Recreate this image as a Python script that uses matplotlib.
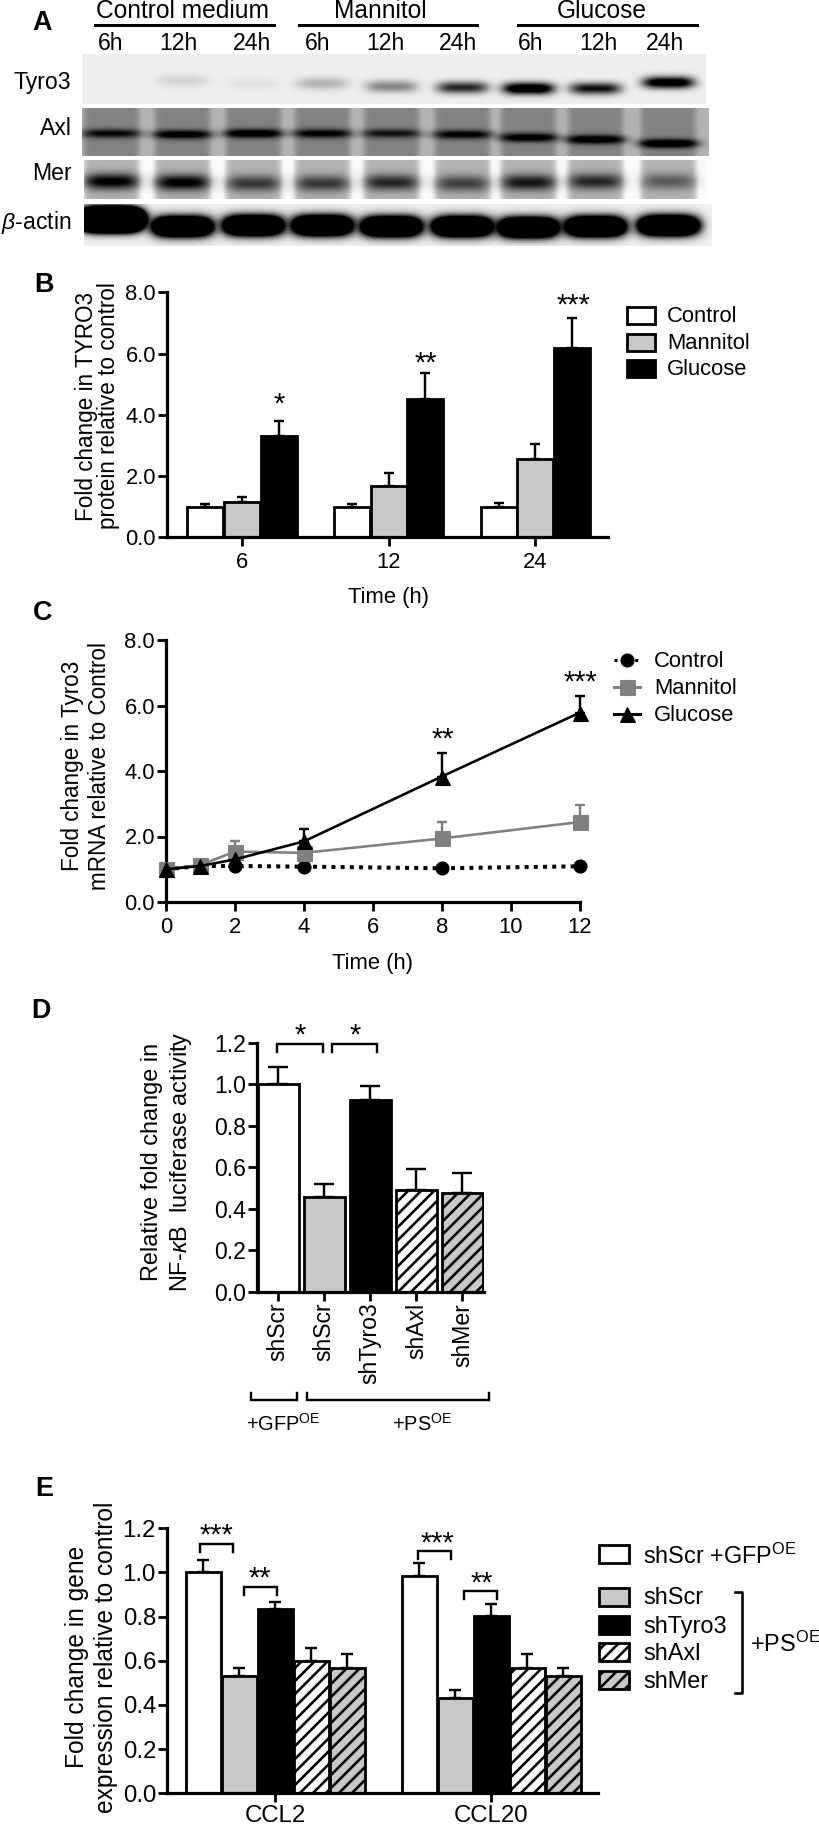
import numpy as np
import matplotlib
matplotlib.use('Agg')
import matplotlib.pyplot as plt
from matplotlib.patches import Rectangle

W, H, DPI = 819, 1827, 78

# panel A, band strength per lane
lanes = [111, 182, 253, 322, 391, 462, 528, 595, 668]
time_labels = ['6h', '12h', '24h'] * 3
group_labels = ['Control medium', 'Mannitol', 'Glucose']
tyro3_band = [0.0, 0.12, 0.06, 0.25, 0.45, 0.85, 1.3, 0.95, 1.2]
axl_band = [1.0, 1.2, 1.3, 1.1, 0.9, 1.1, 1.2, 1.3, 1.4]
mer_band = [1.05, 1.05, 0.7, 0.7, 0.8, 0.65, 0.9, 0.8, 0.5]
actin_band = [8, 3, 3, 3, 3, 3, 3, 3, 3]

# panel B
time_b = ['6', '12', '24']
control_b = [1.0, 1.0, 1.0]
control_b_top = [1.09, 1.1, 1.12]
mannitol_b = [1.14, 1.66, 2.56]
mannitol_b_top = [1.33, 2.11, 3.04]
glucose_b = [3.31, 4.52, 6.17]
glucose_b_top = [3.81, 5.35, 7.17]

# panel C
time_c = [0, 1, 2, 4, 8, 12]
control_c = [1.0, 1.1, 1.1, 1.08, 1.03, 1.09]
mannitol_c = [1.0, 1.13, 1.54, 1.5, 1.94, 2.44]
mannitol_c_top = [1.0, 1.2, 1.87, 1.5, 2.43, 2.95]
glucose_c = [1.0, 1.1, 1.3, 1.85, 3.83, 5.78]
glucose_c_top = [1.0, 1.2, 1.4, 2.24, 4.56, 6.29]

# panel D
names_d = ['shScr', 'shScr', 'shTyro3', 'shAxl', 'shMer']
values_d = [1.0, 0.455, 0.925, 0.49, 0.475]
tops_d = [1.083, 0.52, 0.99, 0.59, 0.572]

# panel E
genes_e = ['CCL2', 'CCL20']
values_e = [[1.0, 0.53, 0.835, 0.6, 0.568], [0.984, 0.433, 0.803, 0.568, 0.533]]
tops_e = [[1.058, 0.568, 0.866, 0.657, 0.632], [1.045, 0.466, 0.857, 0.632, 0.568]]
names_e = ['shScr', 'shTyro3', 'shAxl', 'shMer']


def pt(px):
    return px * 72.0 / DPI


plt.rcParams['font.family'] = ['Liberation Sans', 'DejaVu Sans']
plt.rcParams['mathtext.fontset'] = 'custom'
plt.rcParams['mathtext.rm'] = 'Liberation Sans'
plt.rcParams['mathtext.it'] = 'Liberation Sans:italic'
plt.rcParams['hatch.linewidth'] = pt(2.6)
plt.rcParams['axes.linewidth'] = pt(3.2)

fig = plt.figure(figsize=(W / DPI, H / DPI), dpi=DPI)
STYLES = [dict(fc='white'), dict(fc='#c8c8c8'), dict(fc='black'),
          dict(fc='white', hatch='//'), dict(fc='#c8c8c8', hatch='//')]


def ax_px(x0, y0, x1, y1):
    return fig.add_axes([x0 / W, 1 - y1 / H, (x1 - x0) / W, (y1 - y0) / H])


def blot(x0, y0, x1, y1, bg, lane_bg, lane_half, strengths, centre, half_w, half_h):
    xx, yy = np.meshgrid(np.arange(x0, x1), np.arange(y0, y1))
    img = np.full(xx.shape, float(bg))
    for cx in lanes:
        img = img + (lane_bg - bg) * np.exp(-((xx - cx) / lane_half) ** 12)
    for cx, s, cy in zip(lanes, strengths, centre):
        band = np.clip(s * np.exp(-((xx - cx) / half_w) ** 4 - ((yy - cy) / half_h) ** 2), 0, 1)
        img = img * (1 - band)
    ax = ax_px(x0, y0, x1, y1)
    ax.imshow(img, cmap='gray', vmin=0, vmax=255, aspect='auto', interpolation='bilinear')
    ax.axis('off')


def style_axes(ax, ylim, yticks, size):
    ax.set_ylim(*ylim)
    ax.set_yticks(yticks)
    ax.set_yticklabels(['%.1f' % t for t in yticks])
    for s in ['top', 'right']:
        ax.spines[s].set_visible(False)
    ax.tick_params(axis='both', length=pt(9), width=pt(2.8), labelsize=pt(size), pad=pt(2))
    ax.patch.set_alpha(0)


def bars(ax, xs, vals, tops, styles, width, capw):
    for x, v, t, st in zip(xs, vals, tops, styles):
        ax.bar(x, v, width * 0.98, ec='black', lw=pt(2.8), zorder=2, **st)
        ax.errorbar(x, v, yerr=[[0], [t - v]], color='black', lw=pt(2.4), capsize=pt(capw),
                    capthick=pt(2.4), zorder=1)


# panel A
blot(82, 54, 706, 104, 238, 238, 33, tyro3_band, [80, 80, 83, 83, 86, 87, 88, 88, 82], 26, 6)
blot(82, 108, 709, 156, 178, 130, 28, axl_band, [133, 134, 133, 133, 133, 134, 137, 139, 143], 29, 4.5)
blot(84, 160, 707, 199, 250, 178, 28, mer_band, [181, 182, 183, 183, 182, 183, 182, 181, 181], 27, 8)
blot(84, 204, 712, 246, 240, 240, 33, actin_band, [219, 226, 225, 225, 226, 226, 227, 226, 225], 30, 9.5)

# panel B
ax = ax_px(167, 292.3, 608, 537.3)
for i, (vals, tops) in enumerate([(control_b, control_b_top), (mannitol_b, mannitol_b_top),
                                  (glucose_b, glucose_b_top)]):
    bars(ax, [g + i - 1 for g in (0, 4, 8)], vals, tops, [STYLES[i]] * 3, 1, 5)
ax.set_xlim(-2.04, 9.98)
ax.set_xticks([0, 4, 8])
ax.set_xticklabels(time_b)
style_axes(ax, (0, 8), [0, 2, 4, 6, 8], 22)
ax.tick_params(axis='x', pad=pt(6))

# panel C
ax = ax_px(166, 640, 579.6, 902)
ax.plot(time_c, control_c, color='black', ls=(0, (1, 1.3)), lw=pt(4), marker='o', ms=pt(13), clip_on=False, zorder=3)
for vals, tops, col, mk, ms in [(mannitol_c, mannitol_c_top, '#808080', 's', 15),
                                (glucose_c, glucose_c_top, 'black', '^', 15)]:
    err = np.array(tops) - np.array(vals)
    ax.errorbar(time_c, vals, yerr=[np.zeros(6), err], color=col, lw=pt(2.6), marker=mk, ms=pt(ms),
                elinewidth=pt(2.4), capsize=pt(5), capthick=pt(2.4), clip_on=False, zorder=4)
ax.set_xlim(0, 12)
ax.set_xticks(range(0, 13, 2))
style_axes(ax, (0, 8), [0, 2, 4, 6, 8], 22)
ax.tick_params(axis='x', pad=pt(6))

# panel D
ax = ax_px(256.7, 1042.7, 484, 1291.7)
bars(ax, range(5), values_d, tops_d, STYLES, 0.92, 10)
ax.set_xlim(-0.47, 4.47)
ax.set_xticks(range(5))
ax.set_xticklabels(names_d, rotation=90)
style_axes(ax, (0, 1.2), [0, 0.2, 0.4, 0.6, 0.8, 1.0, 1.2], 23)

# panel E
ax = ax_px(167, 1528.3, 598, 1793.3)
for g, vals, tops in zip((0, 6), values_e, tops_e):
    bars(ax, [g + k - 2 for k in range(5)], vals, tops, STYLES, 1, 6)
ax.set_xlim(-3.01, 8.96)
ax.set_xticks([0, 6])
ax.set_xticklabels(genes_e)
style_axes(ax, (0, 1.2), [0, 0.2, 0.4, 0.6, 0.8, 1.0, 1.2], 24)
ax.tick_params(axis='x', pad=pt(3))

# everything placed by hand goes on a pixel overlay
ov = fig.add_axes([0, 0, 1, 1], zorder=10)
ov.set_xlim(0, W)
ov.set_ylim(H, 0)
ov.axis('off')


def label(x, y, s, size=22, ha='center', **kw):
    ov.text(x, y + 1.5, s, fontsize=pt(size), ha=ha, va='center', **kw)


def stars(x, y, n):
    ov.text(x, y + 6, '*' * n, fontsize=pt(29), ha='center', va='center')


def bracket(x0, x1, top, bottom, lw=2.4):
    ov.plot([x0, x0, x1, x1], [bottom, top, top, bottom], color='black', lw=pt(lw), solid_joinstyle='miter')


def ylab(x1, x2, y, l1, l2, size):
    ov.text(x1, y, l1, fontsize=pt(size), ha='center', va='center', rotation=90)
    ov.text(x2, y, l2, fontsize=pt(size), ha='center', va='center', rotation=90)


def box(x, y0, y1, style, w=28):
    ov.add_patch(Rectangle((x, y0), w, y1 - y0, ec='black', lw=pt(2.8), **style))


for s, x, y in zip('ABCDE', [42, 44, 43, 41, 44], [21, 284, 612, 1009, 1487]):
    label(x, y, s, size=27, fontweight='bold')

# panel A text
for s, x in zip(group_labels, [182, 380, 602]):
    label(x, 10, s, size=24.5)
for x0, x1 in [(95, 274), (299, 477), (518, 697)]:
    ov.plot([x0, x1], [25, 25], color='black', lw=pt(3))
for s, x in zip(time_labels, [111, 178, 252, 318, 385, 458, 531, 598, 665]):
    label(x, 42, s, size=23)
for s, y in zip(['Tyro3', 'Axl', 'Mer', r'$\beta$-actin'], [81, 127, 172, 221]):
    label(71.5, y, s, size=23, ha='right')

# panel B text
ylab(86, 108, 406, 'Fold change in TYRO3', 'protein relative to control', 22.5)
label(389, 596, 'Time (h)')
stars(279, 399, 1)
stars(426, 358, 2)
stars(573, 300, 3)
for s, y0, st in zip(['Control', 'Mannitol', 'Glucose'], [307, 334, 360], STYLES):
    box(626.6, y0, y0 + 16.5, st)
    label(667, y0 + 8, s, ha='left')

# panel C text
ylab(73, 100, 766, 'Fold change in Tyro3', 'mRNA relative to Control', 22.5)
label(373, 962, 'Time (h)')
stars(443, 734, 2)
stars(580, 677, 3)
legend_c = [('Control', 660, 'black', 'o', (0, (1, 1.3)), 13), ('Mannitol', 687, '#808080', 's', '-', 15),
            ('Glucose', 714, 'black', '^', '-', 15)]
for s, y, col, mk, ls, ms in legend_c:
    ov.plot([613.5, 640], [y, y], color=col, ls=ls, lw=pt(3))
    ov.plot([627], [y], color=col, marker=mk, ms=pt(ms))
    label(654, y, s, ha='left')

# panel D text
ylab(152, 181, 1162, 'Relative fold change in', r'NF-$\kappa$B  luciferase activity', 23.5)
bracket(277, 322.7, 1044, 1051.7)
bracket(331.7, 376.7, 1044, 1051.7)
stars(300, 1030, 1)
stars(355, 1030, 1)
bracket(250.7, 296.7, 1400, 1392.7)
bracket(307, 489, 1400, 1392.7)
label(283, 1422, r'+GFP$^{\mathrm{OE}}$', size=20)
label(422, 1422, r'+PS$^{\mathrm{OE}}$', size=20)

# panel E text
ylab(77, 106, 1657, 'Fold change in gene', 'expression relative to control', 24.5)
for x0, x1, top, sx, sy, n in [(200, 233, 1544, 216, 1530, 3), (244.4, 277, 1587, 260, 1573, 2),
                               (418, 451, 1551, 437.6, 1538, 3), (464, 497, 1591, 482, 1578, 2)]:
    bracket(x0, x1, top, top + 7.5)
    stars(sx, sy, n)
box(599, 1545, 1563, STYLES[0], w=30)
label(643, 1555, r'shScr +GFP$^{\mathrm{OE}}$', size=23.5, ha='left')
for s, y0, st in zip(names_e, [1588, 1616, 1643, 1671], STYLES[1:]):
    box(599, y0, y0 + 18, st, w=30)
    label(643, y0 + 9, s, size=23.5, ha='left')
ov.plot([735, 742, 742, 735], [1592, 1592, 1693, 1693], color='black', lw=pt(2.6))
label(750, 1643, r'+PS$^{\mathrm{OE}}$', size=23.5, ha='left')

fig.savefig('out.png', dpi=DPI)
